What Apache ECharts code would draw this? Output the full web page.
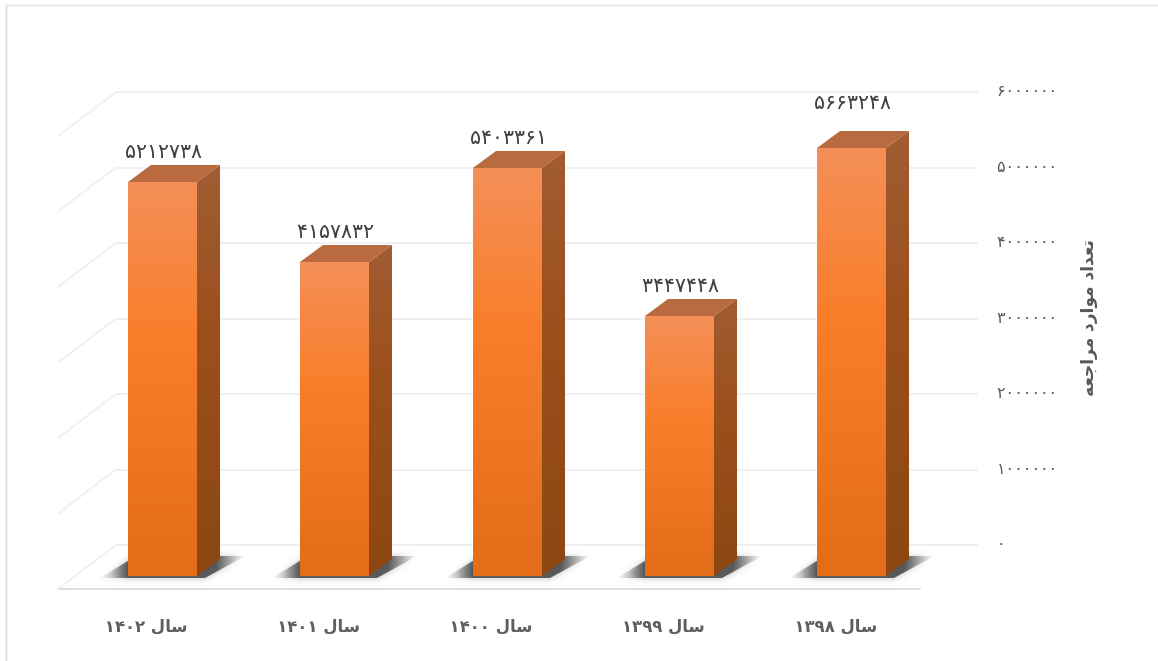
<!DOCTYPE html>
<html><head><meta charset="utf-8">
<style>html,body{margin:0;padding:0;background:#fff}#c{width:1158px;height:661px}</style>
<script src="https://cdn.jsdelivr.net/npm/echarts@6/dist/echarts.min.js"></script>
</head><body><div id="c"></div>
<script>
const categories = ['سال ۱۴۰۲','سال ۱۴۰۱','سال ۱۴۰۰','سال ۱۳۹۹','سال ۱۳۹۸'];
const values = [5212738, 4157832, 5403361, 3447448, 5663248];
const yTicks = [0,1000000,2000000,3000000,4000000,5000000,6000000];
const yName = 'تعداد موارد مراجعه';

const fa = v => String(v).replace(/\d/g, d => '۰۱۲۳۴۵۶۷۸۹'[+d]);
const FONT = '"DejaVu Sans"';
const FLOOR_DX = -58, FLOOR_DY = 44;      // back plane -> front plane
const BAR_DX = -40, BAR_DY = 31;          // back plane -> bar front face
const DEPTH_DX = 23, DEPTH_DY = -17;      // bar front -> bar back face
const vgrad = (stops) => new echarts.graphic.LinearGradient(0,0,0,1,stops.map(([o,c])=>({offset:o,color:c})));

const chart = echarts.init(document.getElementById('c'), null, {renderer:'canvas'});

function renderBar(params, api){
  const i = api.value(0), v = api.value(1);
  const top = api.coord([i, v]), base = api.coord([i, 0]);
  const w = Math.round(api.size([1,0])[0] * 0.4);
  const l = Math.round(top[0] + BAR_DX - w/2), r = l + w;
  const t = Math.round(top[1] + BAR_DY), b = Math.round(base[1] + BAR_DY);
  const dx = DEPTH_DX, dy = DEPTH_DY;
  const lift = v === Math.max(...values) ? 45 : 30;
  return {type:'group', children:[
    {type:'polygon', shape:{points:[[l-28,b+2],[r+8,b+2],[r+48,b-20],[l+8,b-20]]},
      style:{fill:new echarts.graphic.LinearGradient(0,0,1,0,[
        {offset:0,color:'rgba(70,70,70,0)'},{offset:.08,color:'rgba(70,70,70,.25)'},
        {offset:.19,color:'rgba(70,70,70,.85)'},{offset:.8,color:'rgba(70,70,70,.85)'},
        {offset:1,color:'rgba(110,110,110,0)'}]),
        shadowBlur:7,shadowColor:'rgba(110,110,110,.55)'}},
    {type:'polygon', shape:{points:[[r,t],[r+dx,t+dy],[r+dx,b+dy],[r,b]]},
      style:{fill:vgrad([[0,'#A15C32'],[.4,'#9B4F1C'],[1,'#8C4611']])}},
    {type:'polygon', shape:{points:[[l,t],[l+dx,t+dy],[r+dx,t+dy],[r,t]]},
      style:{fill:'#B96B3F'}},
    {type:'rect', shape:{x:l,y:t,width:w,height:b-t},
      style:{fill:vgrad([[0,'#F48F58'],[.38,'#F87E2B'],[1,'#E36C18']])}},
    {type:'text', x:(l+r)/2+1, y:t-lift+1,
      style:{text:fa(v),fontFamily:FONT,fontSize:20.5,fill:'#404040',align:'center',verticalAlign:'middle'}}
  ]};
}

function renderWall(params, api){
  const y = api.coord([0, api.value(0)])[1], x = params.coordSys.x;
  return {type:'line', shape:{x1:x,y1:y,x2:x+FLOOR_DX,y2:y+FLOOR_DY},
    style:{stroke:'#f0f0f0',lineWidth:2}};
}

chart.setOption({
  animation:false,
  backgroundColor:'#fff',
  graphic:[
    {type:'line',silent:true,shape:{x1:6,y1:5.5,x2:1158,y2:5.5},style:{stroke:'#e2e2e2',lineWidth:1.5}},
    {type:'line',silent:true,shape:{x1:6.5,y1:5,x2:6.5,y2:661},style:{stroke:'#e0e0e0',lineWidth:2}}
  ],
  grid:[
    {left:116,right:180,top:92,height:453},
    {left:58,right:238,top:92,height:497}
  ],
  xAxis:[
    {gridIndex:0,type:'category',data:categories,axisLine:{show:false},axisTick:{show:false},axisLabel:{show:false}},
    {gridIndex:1,type:'category',data:categories,axisTick:{show:false},
      axisLine:{lineStyle:{color:'#dedede',width:2}},
      axisLabel:{margin:30,padding:[0,0,0,4],fontFamily:FONT,fontSize:16.5,fontWeight:'bold',color:'#5f5f5f'}}
  ],
  yAxis:[
    {gridIndex:0,type:'value',position:'right',min:0,max:6000000,interval:1000000,
      axisLine:{show:false},axisTick:{show:false},
      splitLine:{lineStyle:{color:'#f0f0f0',width:2}},
      axisLabel:{margin:19,padding:[2,0,0,0],align:'left',fontFamily:FONT,fontSize:16,color:'#595959',formatter:v=>fa(v)},
      name:yName,nameLocation:'middle',nameRotate:90,nameGap:102,
      nameTextStyle:{fontFamily:FONT,fontSize:17,fontWeight:'bold',color:'#595959'}},
    {gridIndex:1,type:'value',show:false,min:0,max:1}
  ],
  series:[
    {type:'custom',xAxisIndex:0,yAxisIndex:0,z:1,silent:true,clip:false,data:yTicks.map(v=>[v]),encode:{y:0},renderItem:renderWall},
    {type:'custom',xAxisIndex:0,yAxisIndex:0,z:3,silent:true,clip:false,data:values.map((v,i)=>[i,v]),encode:{x:0,y:1},renderItem:renderBar}
  ]
});
</script></body></html>
